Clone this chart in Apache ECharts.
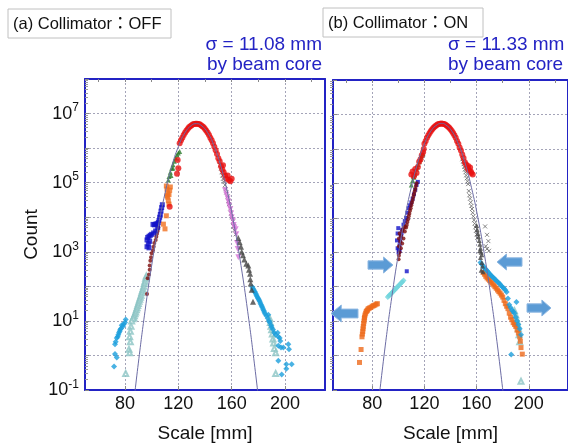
<!DOCTYPE html>
<html>
<head>
<meta charset="utf-8">
<script src="https://cdn.jsdelivr.net/npm/echarts@6/dist/echarts.min.js"></script>
<style>
html,body{margin:0;padding:0;background:#fff}
#chart{width:568px;height:448px}
</style>
</head>
<body>
<div id="chart"></div>
<script>
// tick values
var xTicks = [80, 120, 160, 200];
var xMinor = [60, 80, 100, 120, 140, 160, 180, 200, 220];
var yTicks = [0.1, 1, 10, 100, 1e3, 1e4, 1e5, 1e6, 1e7, 1e8];
var yLabels = [0.1, 10, 1e3, 1e5, 1e7];

// (a) Collimator OFF
var aFit = [[86,0.028],[90,0.6],[95,19],[100,400],[105,5500],[110,4.9e4],[115,2.9e5],[120,1.1e6],[125,2.8e6],[130,4.6e6],[133.5,5.1e6],[137,4.6e6],[142,2.8e6],[147,1.1e6],[152,2.9e5],[157,4.9e4],[162,5500],[167,400],[172,19],[177,0.6],[181,0.028]];
var aRed = [[121,1.38e6],[122,1.68e6],[123,2.0e6],[124,2.4e6],[125,2.8e6],[126,3.2e6],[127,3.6e6],[128,4.0e6],[129,4.3e6],[130,4.6e6],[131,4.9e6],[132,5.0e6],[133,5.1e6],[134,5.1e6],[135,5.0e6],[136,4.9e6],[137,4.6e6],[138,4.3e6],[139,4.0e6],[140,3.6e6],[141,3.2e6],[142,2.8e6],[143,2.4e6],[144,2.0e6],[145,1.68e6],[146,1.38e6],[147,1.1e6],[148,8.7e5],[149,6.8e5],[150,5.1e5],[151,4.2e5],[152,3.0e5],[153,2.4e5],[154,2.0e5],[155,1.6e5],[156,1.3e5],[157,1.6e5],[158,1.2e5],[159,1.1e5],[160,1.3e5],[153.5,3.2e5],[119.5,4.5e5],[120,2.6e5],[119,1.8e5],[113.5,2.0e4]];
var aGreen = [[112.5,1.2e5],[113,1.5e5],[114,2e5],[115,2.6e5],[116,3.3e5],[117,4.2e5],[118,5.2e5],[119,6.3e5],[120,7.2e5],[121,8e5],[116,2.6e5],[114.5,1.6e5]];
var aOrange = [[111,8e4],[111.5,6.5e4],[112,5e4],[112,3.8e4],[112.5,3e4],[113,2.4e4],[113,4.5e4],[113.5,6e4],[114,7.5e4],[111.5,4.2e4],[111,1.1e4],[108.8,6300],[110,4600]];
var aBlue = [[108,2.3e4],[107.5,1.9e4],[107,1.5e4],[106.5,1.2e4],[106,1.0e4],[105.5,8000],[105,7000],[104,6500],[103,6300],[102,6000],[101,6200],[104.5,5000],[103,4000],[101.5,3500],[100,3200],[99,3000],[98,2800],[97,2600],[96.5,2200],[98.5,2000],[97.5,1700],[96.5,1400],[98,1300]];
var aMaroon = [[105,5000],[104.5,4000],[104,3300],[103.5,2700],[103,2200],[102,1800],[101.5,1400],[101,1100],[100,900],[99.5,700],[99,550],[98.5,400],[98.5,300],[98,220],[97,170],[96.5,60]];
var aTeal = [[96,200],[95.5,170],[95,140],[94.5,120],[94,100],[93.5,85],[93,75],[92.5,65],[92,55],[91.5,48],[91,42],[90.5,37],[90,32],[89.5,28],[89,24],[88.5,21],[88,18],[87.5,16],[87,14],[86.5,12.5],[86,11.5],[85,10],[84.5,7],[84,5],[83.5,3.5],[84,2.5],[83,1.5],[83.5,1.2],[80.5,0.3]];
var aCyan = [[80.5,11],[80,9],[79,8],[78.5,7],[77.5,7.5],[77,6],[76.5,5.6],[76,5],[75.5,4.5],[75,4],[74.5,3.5],[73.8,3.2],[73,2.5],[72.5,2.1],[72.5,1.1],[73.8,0.87],[71.8,0.48]];
var aCross = [[151,4e5],[151.5,3.2e5],[152,2.6e5],[152.5,2e5],[153,1.6e5],[153.5,1.3e5],[154,1.05e5],[155,8.5e4],[155.5,6.5e4],[156,5.2e4],[157,4e4],[157.5,3e4],[158,2.4e4],[159,1.8e4],[159.5,1.3e4],[160,1e4],[161,7500],[161.5,5500],[162,4200],[163,3200]];
var aPink = [[155,6e4],[156,4.5e4],[157,3.5e4],[157.5,2.8e4],[158,2.2e4],[159,1.7e4],[159.5,1.3e4],[160,1e4],[161,8000],[161.5,6000],[162,5000],[163,4500],[163.5,3200],[164,1800],[164.5,1200],[165,700]];
var aTri = [[165,2500],[166,1900],[167,1400],[167.5,1000],[168.5,800],[169.5,600],[171,450],[172.5,400],[173,300],[173.8,230],[174,160],[174.3,120],[175,80],[176,36]];
var aCyanR = [[175.5,95],[176,87],[176.5,80],[177,72],[177.5,68],[178,62],[178.5,56],[179,52],[179.5,47],[180,44],[180.5,40],[181,37],[181.5,33],[182,30],[182.5,27],[183,25],[183.5,22],[184,20],[184.5,18],[185,16],[186,14],[187,12],[187.5,15],[188,10],[188.5,9],[189.5,7.5],[190,6.5],[191,5.6],[192,4.5],[193,4],[194.5,4.5],[195,3.5],[196,3.2],[196.5,2.6],[195,1.9],[197,1.7],[198.8,1.7],[202.5,2.1],[203,1.5],[195,0.7],[201,0.56],[205,0.56],[201,0.41],[197.5,0.28]];
var aTealR = [[188.5,12],[189,9],[189.5,7],[190,5.5],[190.5,4.2],[191,3],[191.5,2.3],[192,1.6],[193,1.2],[193,0.3]];

// (b) Collimator ON
var bFit = [[85,0.048],[90,1.9],[95,49],[100,850],[105,1e4],[110,7.7e4],[115,4.1e5],[120,1.4e6],[125,3.3e6],[130,5.1e6],[133,5.5e6],[136,5.1e6],[141,3.3e6],[146,1.4e6],[151,4.1e5],[156,7.7e4],[161,1e4],[166,850],[171,49],[176,1.9],[181,0.048]];
var bRed = [[119,8e5],[119.5,1.0e6],[120,1.4e6],[121,1.7e6],[122,2.1e6],[123,2.5e6],[124,2.9e6],[125,3.3e6],[126,3.7e6],[127,4.1e6],[128,4.5e6],[129,4.8e6],[130,5.1e6],[131,5.3e6],[132,5.4e6],[133,5.5e6],[134,5.4e6],[135,5.3e6],[136,5.1e6],[137,4.8e6],[138,4.5e6],[139,4.1e6],[140,3.7e6],[141,3.3e6],[142,2.9e6],[143,2.5e6],[144,2.1e6],[145,1.7e6],[146,1.4e6],[147,1.1e6],[148,9e5],[149,6.9e5],[150,5.4e5],[151,4.1e5],[152,3.5e5],[153,2.8e5],[153.5,3.2e5],[154,2.4e5],[155,2.9e5],[155.5,2.2e5],[156,2.0e5],[157,1.8e5],[110,1.8e5],[111,2.2e5],[112,1.6e5],[113,2.6e5],[114,2.0e5],[115,3.0e5],[116,4.2e5],[117,5e5],[118,6.5e5]];
var bGreen = [[110,9e4],[111,1.2e5],[111.5,1.6e5],[112,1.5e5],[112.5,1.8e5],[113,2.1e5],[114,2.6e5],[114.5,3e5],[115,3.5e5],[116,4.2e5],[117,5e5],[117.5,5.8e5],[118,6.5e5],[119,7.2e5]];
var bMaroon = [[114,1e5],[113.5,8.3e4],[113,6.9e4],[112.5,5.8e4],[112,4.8e4],[111.5,4e4],[111,3.3e4],[110.5,2.8e4],[110,2.3e4],[109.5,1.9e4],[109,1.6e4],[108.5,1.3e4],[108,1.1e4],[107.5,9000],[107,7500],[106.5,6200],[106,5200],[105,5500],[104,5000],[105,4000],[103,4200],[101,3500],[102,3000],[104,2500],[100.5,2500],[101.5,2000],[103,1800],[100.5,1500],[102,1300],[101,1000],[100.5,800],[100.25,630]];
var bBlue = [[115,1.1e5],[114,9e4],[113,6.5e4],[112,4.8e4],[111,3.6e4],[110,2.8e4],[109,2.3e4],[108,1.9e4],[107,1.4e4],[106,1e4],[105,8000],[104,6300],[103,4500],[102.5,3500],[102,2800],[101.5,2100],[101,1600],[100.5,1200],[100.25,980],[99.5,1300],[99,2200],[99.5,3500],[100,5000],[101,1100],[106.5,280]];
var bCyanL = [[92,50],[93,55],[94,60],[95,66],[96,72],[97,79],[98,87],[99,95],[100,104],[101,114],[102,125],[103,137],[104,150]];
var bOrangeL = [[84,32],[83,31],[82,29],[81,28],[80,27],[79,25],[78,24],[77,23],[76.5,21],[76,20],[75.5,19],[75,17],[74.5,15],[74.2,13],[74,12],[73.8,10],[73.5,8.5],[73.2,7],[73,6],[72.8,5],[72.5,4.2],[72.2,3.5],[71.5,1.5],[70.3,0.63]];
var bCross = [[149,5e5],[149.5,4.2e5],[150,3.6e5],[150.5,3e5],[151,2.5e5],[151.5,2.1e5],[152,1.7e5],[152.5,1.4e5],[153,1.15e5],[153.5,9.5e4],[154,6e4],[154.5,4.5e4],[155,3.6e4],[155.5,2.8e4],[156,2.2e4],[156.5,1.8e4],[157,1.4e4],[157.5,1.1e4],[158,8500],[158.5,6800],[159,5300],[159.5,4200],[160,3300],[160.5,2600],[166.5,5600],[168,3200],[169,2100],[167,1500],[169.5,1100],[168,1250]];
var bTri = [[160,6000],[160.5,4500],[161,3500],[161.5,2800],[162,2200],[162.5,1700],[163,1300],[163.5,1000],[164,850],[162.5,1100],[163,700],[164,500],[164.5,400],[163.5,300],[165,270]];
var bCyanR = [[163,500],[164,450],[165,400],[166,350],[167,320],[168,290],[169,260],[170,235],[171,215],[172,195],[173,180],[174,165],[175,150],[176,140],[177,128],[178,118],[179,105],[180,96],[181,88],[182,80],[183,70],[184,45],[185,30],[186,25],[187,21],[188,19],[189,17],[190,13],[191,10],[192,8],[193,6],[194,4],[190.5,36],[186.5,1.07]];
var bOrangeR = [[165,260],[166,230],[167,200],[168,180],[169,165],[170,150],[171,135],[172,125],[173,112],[174,100],[175,90],[176,80],[177,72],[178,65],[179,57],[180,50],[181,40],[182,32],[183,27],[184,23],[185,17],[186,13],[187,11],[188,9],[189,8],[190,7],[191,5.5],[192,4.5],[193,3.5],[193.5,2.6],[194,1.7],[195,1.1]];
var bTealR = [[189,20],[190,15],[190.5,12],[191,10],[191.5,8],[192,6],[192.5,4],[193,2.5],[194,0.18]];

var yMinor = [];
for (var e = -1; e < 8; e++) {
  for (var m = 2; m < 10; m++) yMinor.push(+(m * Math.pow(10, e)).toPrecision(3));
}

var BLUE = '#2323c4';
var FONT = '"Liberation Sans", Arial, sans-serif';
var CROSS = 'path://M0,0L10,10M10,0L0,10';
var INV = 'path://M0,0L10,0L5,9Z';

function pts(p, data, symbol, size, color, hollow) {
  var s = {
    type: 'scatter', data: data, silent: true,
    xAxisIndex: p == 0 ? 0 : 2, yAxisIndex: p == 0 ? 0 : 3,
    symbol: symbol, symbolSize: size,
    itemStyle: { color: color }
  };
  if (hollow) s.itemStyle = { color: 'rgba(255,255,255,0)', borderColor: color, borderWidth: 1 };
  return s;
}
function fit(p, data) {
  return {
    type: 'line', data: data, smooth: true, showSymbol: false, silent: true, z: 5,
    xAxisIndex: p == 0 ? 0 : 2, yAxisIndex: p == 0 ? 0 : 3,
    lineStyle: { color: '#6c6ca4', width: 1 }
  };
}

function xMain(g) {
  return {
    type: 'value', gridIndex: g, position: 'bottom', min: 50, max: 230,
    name: 'Scale [mm]', nameLocation: 'middle', nameGap: 34,
    nameTextStyle: { fontSize: 19, fontFamily: FONT, color: '#111' },
    axisLine: { onZero: false, lineStyle: { color: BLUE, width: 2 } },
    axisTick: { inside: true, length: 4, customValues: xTicks, lineStyle: { color: '#888' } },
    axisLabel: { customValues: xTicks, fontSize: 18, fontFamily: FONT, color: '#111', margin: 5 },
    splitLine: { show: true, lineStyle: { color: '#a4a4b8', type: [2, 2], width: 1 } }
  };
}
function xTop(g) {
  return {
    type: 'value', gridIndex: g, position: 'top', min: 50, max: 230,
    axisLine: { onZero: false, lineStyle: { color: BLUE, width: 2 } },
    axisTick: { inside: true, length: 3, customValues: xMinor, lineStyle: { color: '#888' } },
    axisLabel: { show: false }, splitLine: { show: false }
  };
}
function yMain(g, showLabel) {
  return {
    type: 'log', logBase: 10, gridIndex: g, position: 'left', min: 0.1, max: 1e8,
    name: showLabel ? 'Count' : '', nameLocation: 'middle', nameGap: 44,
    nameTextStyle: { fontSize: 19, fontFamily: FONT, color: '#111' },
    axisLine: { onZero: false, lineStyle: { color: BLUE, width: 2 } },
    axisTick: { inside: true, length: 4, customValues: yTicks, lineStyle: { color: '#888' } },
    axisLabel: {
      show: showLabel, customValues: yLabels, margin: 6,
      formatter: function (v) { return '{b|10}{s|' + Math.round(Math.log10(v)) + '}'; },
      rich: {
        b: { fontSize: 18, fontFamily: FONT, color: '#111' },
        s: { fontSize: 12, fontFamily: FONT, color: '#111', padding: [0, 0, 11, 0] }
      }
    },
    splitLine: { show: true, lineStyle: { color: '#a4a4b8', type: [2, 2], width: 1 } }
  };
}
function yRight(g) {
  return {
    type: 'log', logBase: 10, gridIndex: g, position: 'right', min: 0.1, max: 1e8,
    axisLine: { onZero: false, lineStyle: { color: BLUE, width: 2 } },
    axisTick: { show: false }, axisLabel: { show: false }, splitLine: { show: false }
  };
}
function yMinorAxis(g, inside) {
  return {
    type: 'log', logBase: 10, gridIndex: g, position: 'left', min: 0.1, max: 1e8,
    axisLine: { show: false },
    axisTick: { inside: inside, length: 3, customValues: yMinor, lineStyle: { color: '#999' } },
    axisLabel: { show: false }, splitLine: { show: false }
  };
}

function arrow(x, y, w, h, dir) {
  // block arrow: body about half the height, head 38% of the width
  var hw = w * 0.38, bt = y + h * 0.24, bb = y + h * 0.76, my = y + h / 2, p;
  if (dir > 0) {
    p = [[x, bt], [x + w - hw, bt], [x + w - hw, y], [x + w, my], [x + w - hw, y + h], [x + w - hw, bb], [x, bb]];
  } else {
    p = [[x + w, bt], [x + hw, bt], [x + hw, y], [x, my], [x + hw, y + h], [x + hw, bb], [x + w, bb]];
  }
  return { type: 'polygon', shape: { points: p }, style: { fill: '#5b9bd5', stroke: '#8fb8e2', lineWidth: 1 }, z: 50 };
}

var chart = echarts.init(document.getElementById('chart'));
chart.setOption({
  animation: false,
  backgroundColor: '#fff',
  grid: [
    { left: 85, top: 79, width: 240, height: 315 },
    { left: 333, top: 80, width: 240, height: 315 }
  ],
  xAxis: [xMain(0), xTop(0), xMain(1), xTop(1)],
  yAxis: [yMain(0, true), yRight(0), yMinorAxis(0, true), yMain(1, false), yRight(1), yMinorAxis(1, false)],
  series: [
    pts(0, aTeal, 'emptyTriangle', 5, '#8cc4c4'),
    pts(0, aTealR, 'emptyTriangle', 5, '#8cc4c4'),
    pts(0, aCyan, 'diamond', 6, '#1c9fdc'),
    pts(0, aCyanR, 'diamond', 6, '#1c9fdc'),
    pts(0, aCross, CROSS, 4, '#666', true),
    pts(0, aPink, INV, 6, '#d674d8'),
    pts(0, aTri, 'triangle', 6, '#444'),
    pts(0, aMaroon, 'circle', 4, '#7a0a0a'),
    pts(0, aBlue, 'rect', 5, '#1212c8'),
    pts(0, aOrange, 'rect', 5, '#f07020'),
    pts(0, aGreen, 'triangle', 5, '#2a7a2a'),
    pts(0, aRed, 'circle', 6, '#e81010'),
    fit(0, aFit),

    pts(1, bTealR, 'emptyTriangle', 5, '#8cc4c4'),
    pts(1, bCyanL, 'diamond', 6, '#6ed4dc'),
    pts(1, bOrangeL, 'rect', 5, '#ee6a1c'),
    pts(1, bOrangeR, 'rect', 5, '#ee6a1c'),
    pts(1, bCyanR, 'diamond', 6, '#1c9fdc'),
    pts(1, bCross, CROSS, 4, '#666', true),
    pts(1, bTri, 'triangle', 5, '#444'),
    pts(1, bBlue, 'rect', 4, '#1212c8'),
    pts(1, bMaroon, 'circle', 4, '#7a0a0a'),
    pts(1, bGreen, 'triangle', 5, '#2a7a2a'),
    pts(1, bRed, 'circle', 6, '#e81010'),
    fit(1, bFit)
  ],
  graphic: [
    { type: 'rect', shape: { x: 8, y: 9, width: 163, height: 29 }, style: { fill: '#fff', stroke: '#c0c0c0', lineWidth: 1 } },
    { type: 'text', x: 13, y: 24, style: { text: '(a) Collimator：OFF', fontSize: 16.5, fontFamily: FONT + ', "Noto Sans CJK JP"', fill: '#111', verticalAlign: 'middle' } },
    { type: 'rect', shape: { x: 323, y: 8, width: 160, height: 29 }, style: { fill: '#fff', stroke: '#c0c0c0', lineWidth: 1 } },
    { type: 'text', x: 328, y: 23, style: { text: '(b) Collimator：ON', fontSize: 16.5, fontFamily: FONT + ', "Noto Sans CJK JP"', fill: '#111', verticalAlign: 'middle' } },
    { type: 'text', x: 322, y: 45, style: { text: 'σ = 11.08 mm', fontSize: 19, fontFamily: FONT, fill: BLUE, align: 'right', verticalAlign: 'middle' } },
    { type: 'text', x: 322, y: 65, style: { text: 'by beam core', fontSize: 19, fontFamily: FONT, fill: BLUE, align: 'right', verticalAlign: 'middle' } },
    { type: 'text', x: 448, y: 45, style: { text: 'σ = 11.33 mm', fontSize: 19, fontFamily: FONT, fill: BLUE, verticalAlign: 'middle' } },
    { type: 'text', x: 448, y: 65, style: { text: 'by beam core', fontSize: 19, fontFamily: FONT, fill: BLUE, verticalAlign: 'middle' } },
    arrow(368, 257, 25, 16, 1),
    arrow(497, 254, 25, 16, -1),
    arrow(331, 305, 27, 17, -1),
    arrow(527, 300, 24, 16, 1)
  ]
});
</script>
</body>
</html>
